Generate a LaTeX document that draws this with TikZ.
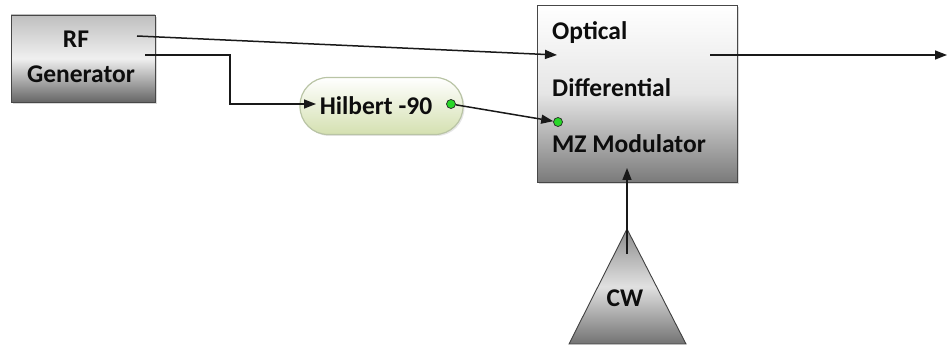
\documentclass[tikz,border=0pt]{standalone}
\usepackage{fontspec}
\setmainfont{Carlito}
\usetikzlibrary{arrows.meta,shadows}

\definecolor{hilfill}{RGB}{212,224,176}
\definecolor{hilline}{RGB}{185,196,165}
\definecolor{portgreen}{RGB}{40,215,40}

\tikzset{
  block/.style={draw=black!72, line width=0.9pt, inner sep=0pt,
    drop shadow={shadow xshift=2pt, shadow yshift=-2pt, opacity=0.3}},
  lbl/.style={font=\fontsize{25.5}{25.5}\selectfont\bfseries, inner sep=0pt, text=black!95},
  wire/.style={line width=1.5pt, draw=black!90},
  arr/.style={wire, -{Triangle[length=12pt,width=9pt]}},
  port/.style={circle, draw=black!85, line width=0.7pt, fill=portgreen,
    minimum size=9pt, inner sep=0pt},
}

\begin{document}
\begin{tikzpicture}[x=1pt,y=-1pt]
\useasboundingbox (0,0) rectangle (948,347);

% RF generator
\node[block, minimum width=144pt, minimum height=87pt,
      top color=black!25, bottom color=black!60, middle color=white!94!black] (rf) at (83,58.5) {};
\node[lbl, anchor=base] (rft1) at (76,48) {RF};
\node[lbl, anchor=base] (rft2) at (81,83) {Generator};
\coordinate (rfa) at (137,36);
\coordinate (rfb) at (145,55);

% Hilbert transformer
\node[draw=hilline, line width=1.2pt, rounded corners=28pt,
      minimum width=163pt, minimum height=57pt, inner sep=0pt,
      top color=white, bottom color=hilfill,
      drop shadow={shadow xshift=1.5pt, shadow yshift=-1.5pt, opacity=0.2}] (hil) at (381.5,106) {};
\node[lbl, anchor=base] (hilt) at (376,115) {Hilbert -90};
\coordinate (hilin) at (316,104);
\node[port] (hilout) at (451,104) {};

% Optical differential MZ modulator
\node[block, minimum width=200pt, minimum height=177pt,
      top color=white, bottom color=black!52, middle color=black!10] (mod) at (637,93.5) {};
\node[lbl, anchor=base west] (modt1) at (552,40) {Optical};
\node[lbl, anchor=base west] (modt2) at (552,97) {Differential};
\node[lbl, anchor=base west] (modt3) at (552,153) {MZ Modulator};
\coordinate (modina) at (557,55);
\node[port] (modinb) at (558,122) {};
\coordinate (modinc) at (627,168);
\coordinate (modout) at (710,55);
\coordinate (optout) at (947,55);

% CW laser source
\path[draw=black!75, line width=0.9pt, top color=black!45, bottom color=black!55, middle color=black!12]
  (627,229) -- (686,344) -- (569,344) -- cycle;
\node[lbl, anchor=base] (cw) at (625,307) {CW};
\coordinate (cwout) at (627,254);

% Connections
\draw[arr] (rfa) -- (modina);
\draw[arr] (rfb) -- (230,55) -- (230,104) -- (hilin);
\draw[arr] (hilout) -- (modinb);
\draw[arr] (cwout) -- (modinc);
\draw[arr] (modout) -- (optout);
\end{tikzpicture}
\end{document}
